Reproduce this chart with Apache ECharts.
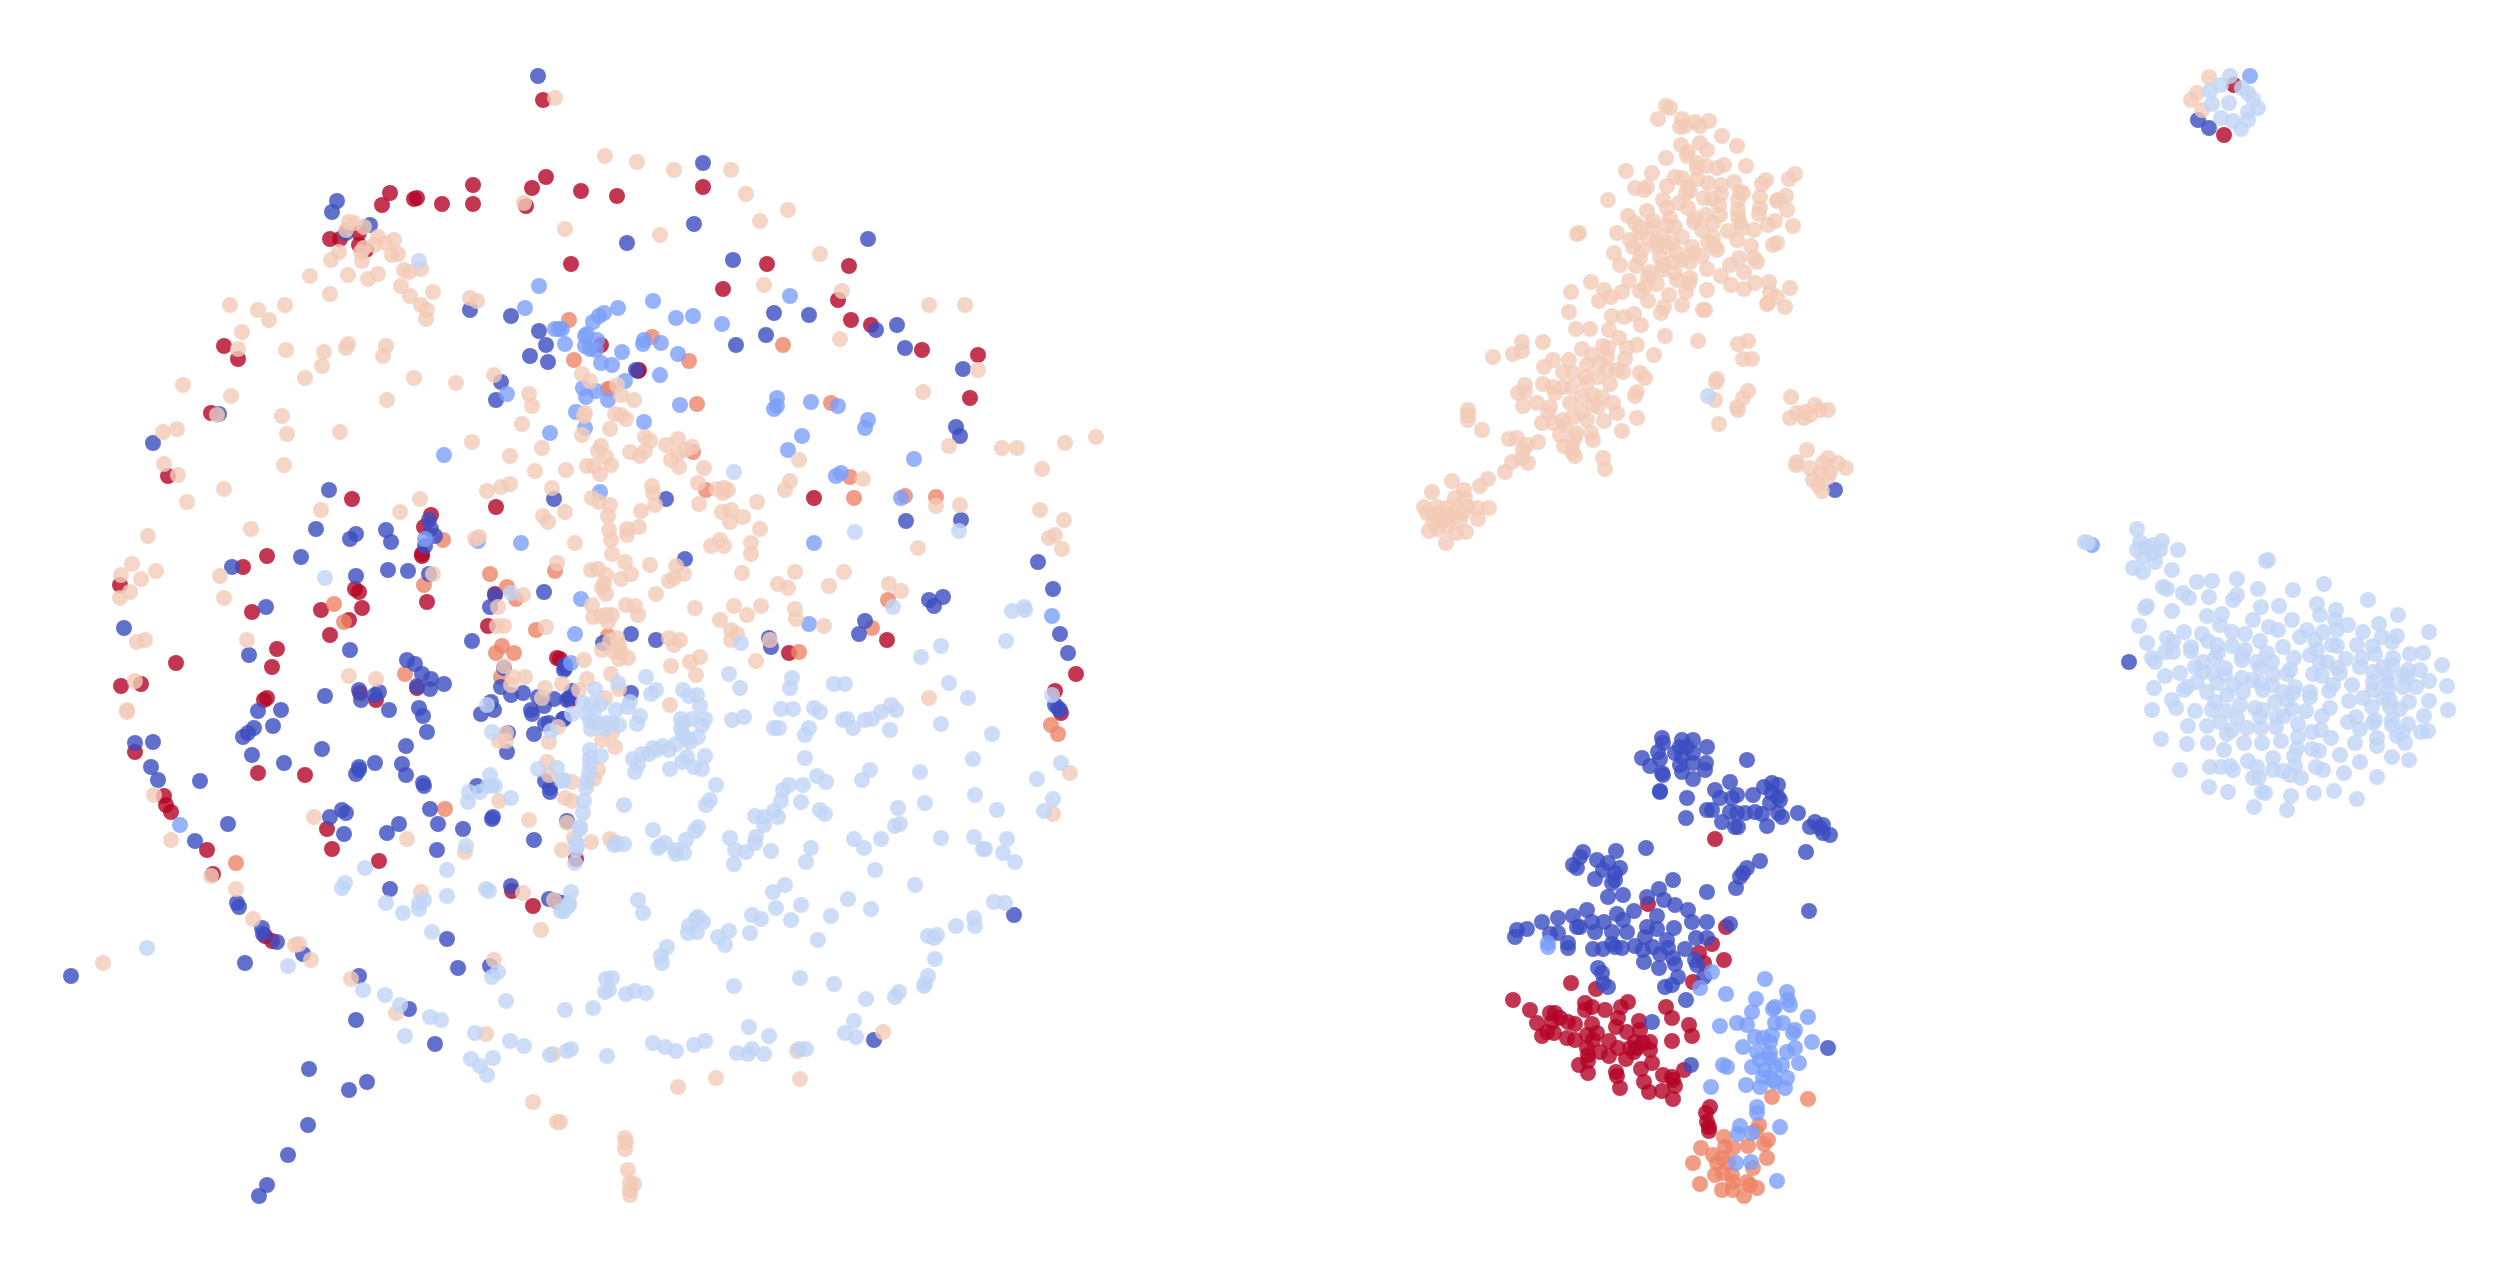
<!DOCTYPE html>
<html><head><meta charset="utf-8"><title>Embedding scatter</title>
<script src="https://cdn.jsdelivr.net/npm/echarts@6/dist/echarts.min.js"></script>
<style>html,body{margin:0;padding:0;background:#fff}#c{width:2519px;height:1272px}</style></head>
<body><div id="c"></div>
<script>
const class5Red = [
[543,100],[390,193],[382,205],[414,199],[417,198],[442,204],[473,185],[473,204],[532,188],[546,177],[581,191],[526,206],[571,264],[330,239],[340,239],[359,233],[359,245],[366,250],[224,346],[238,359],[211,413],[168,476],[601,345],[352,499],[496,507],[431,515],[424,527],[422,554],[422,556],[267,556],[243,567],[120,585],[355,589],[359,592],[495,594],[427,602],[362,608],[321,610],[252,612],
[617,196],[703,187],[767,264],[723,289],[849,266],[838,300],[851,320],[871,325],[922,350],[978,355],[970,398],[638,371],[639,370],[814,498],[887,640],[789,653],[1076,674],[560,659],
[1055,691],[1061,713],[576,859],
[330,635],[277,649],[272,667],[176,663],[121,686],[141,684],[264,700],[267,698],[135,752],[258,773],[305,775],[164,796],[166,805],[171,812],[207,850],[213,874],[327,829],[332,849],[379,861],[265,936],[272,941],[360,693],[376,700],[417,688],[512,891],[533,906],[557,658],[488,626],[349,620],[570,700],
[1715,839],[1648,904],[1726,927],[1712,944],[1699,953],[1704,963],[1724,960],[1693,982],[1571,983],[1596,989],[1513,1000],[1530,1010],[1537,1023],[1585,1003],[1592,1007],[1585,1010],[1605,1010],[1628,1002],[1621,1007],[1666,1007],[1672,1018],[1550,1013],[1555,1013],[1552,1022],[1560,1018],[1568,1022],[1575,1024],[1618,1018],[1616,1027],[1592,1024],[1639,1021],[1689,1025],[1692,1036],[1542,1036],[1547,1032],[1554,1033],[1567,1038],[1575,1040],[1587,1035],[1597,1033],[1593,1040],[1627,1032],[1640,1030],[1672,1041],[1609,1041],[1650,1042],[1643,1043],[1635,1042],[1587,1048],[1600,1052],[1618,1048],[1630,1048],[1637,1048],[1650,1050],[1609,1056],[1626,1059],[1634,1052],[1588,1055],[1588,1061],[1579,1065],[1652,1063],[1641,1069],[1616,1072],[1617,1076],[1588,1073],[1684,1070],[1663,1075],[1672,1077],[1673,1080],[1675,1086],[1644,1082],[1620,1088],[1649,1092],[1662,1091],[1673,1099],[1710,1107],[1706,1113],[1707,1122],[1709,1127],[1709,1131],
[2234,85],[2224,135]
];
const class4Orange = [
[569,320],[574,360],[610,389],[443,540],[490,574],[555,571],[424,585],[507,587],[516,599],[334,604],
[652,337],[689,361],[783,345],[608,389],[697,404],[831,403],[850,477],[706,490],[905,496],[936,497],[854,498],[693,452],[888,600],[872,628],[799,652],[608,636],
[1051,725],[1058,734],
[405,674],[445,809],[236,863],[502,646],[496,653],[514,653],[536,630],[344,622],[501,677],
[1772,1097],[1808,1099],[1759,1125],[1756,1131],[1724,1137],[1768,1140],[1764,1144],[1725,1147],[1733,1148],[1748,1146],[1701,1148],[1713,1155],[1722,1158],[1767,1158],[1693,1163],[1728,1163],[1717,1163],[1753,1168],[1715,1175],[1723,1173],[1732,1175],[1733,1182],[1747,1182],[1700,1184],[1722,1190],[1733,1190],[1750,1185],[1757,1188],[1744,1196]
];
const class0DarkBlue = [
[538,76],[337,201],[332,212],[370,225],[346,233],[470,310],[511,316],[539,331],[546,345],[530,356],[548,362],[501,382],[496,400],[219,414],[153,443],[329,490],[554,499],[429,520],[431,529],[435,536],[425,546],[316,529],[356,534],[350,539],[386,530],[391,542],[301,557],[232,567],[388,570],[408,571],[429,574],[356,576],[544,592],[495,595],[266,607],[490,607],
[703,163],[694,224],[627,243],[868,239],[733,260],[774,313],[809,315],[897,325],[876,330],[766,335],[736,345],[905,348],[963,369],[636,370],[956,427],[960,436],[666,499],[906,521],[961,520],[685,559],[1038,562],[1053,589],[929,600],[943,597],[934,606],[865,621],[859,634],[1060,634],[1068,653],[631,634],[656,640],[603,643],[769,638],[771,647],[565,665],[564,670],
[631,693],[569,698],[567,700],[572,691],[564,719],[567,821],[1058,708],[1055,705],[1060,710],[1014,915],[874,1040],[565,668],[562,903],
[124,628],[249,655],[350,650],[472,641],[407,660],[415,664],[422,674],[431,679],[444,684],[417,686],[430,689],[359,690],[379,692],[375,695],[361,700],[389,710],[325,696],[281,710],[258,711],[254,728],[248,733],[243,737],[273,726],[135,743],[153,742],[252,755],[284,763],[322,749],[151,767],[158,780],[200,781],[419,708],[423,716],[427,732],[406,746],[402,764],[406,775],[375,763],[359,767],[359,770],[356,774],[423,783],[424,786],[430,809],[342,810],[346,813],[330,817],[228,824],[344,834],[387,833],[399,824],[438,824],[463,829],[437,850],[195,841],[390,889],[237,903],[239,907],[262,928],[277,942],[263,934],[303,954],[245,963],[71,976],[359,976],[447,939],[458,968],[409,1009],[356,1020],[435,1044],[309,1069],[367,1082],[349,1090],[308,1125],[288,1155],[267,1185],[259,1196],[490,966],[511,886],[549,899],[556,901],[477,786],[493,817],[492,819],[534,840],[550,788],[550,792],[545,781],[507,752],[508,733],[481,714],[494,710],[491,702],[534,734],[531,710],[532,714],[501,687],[511,695],[523,693],[504,668],[538,697],[544,706],[554,699],[545,724],[549,723],[563,719],
[1835,490],
[1662,738],[1663,743],[1682,740],[1693,740],[1707,747],[1680,747],[1687,747],[1675,753],[1658,752],[1693,753],[1682,757],[1642,758],[1660,759],[1650,766],[1680,765],[1693,763],[1706,763],[1705,770],[1747,760],[1662,773],[1663,775],[1682,772],[1693,779],[1730,782],[1660,791],[1660,792],[1715,790],[1772,783],[1778,785],[1764,787],[1687,798],[1720,798],[1732,798],[1737,795],[1753,795],[1772,793],[1778,797],[1770,803],[1780,800],[1707,810],[1712,810],[1730,812],[1737,813],[1745,813],[1755,812],[1762,814],[1778,813],[1782,817],[1798,813],[1686,818],[1722,822],[1735,827],[1738,827],[1767,826],[1815,822],[1810,827],[1823,825],[1820,828],[1823,833],[1830,835],[1806,852],[1646,848],[1583,852],[1580,857],[1573,865],[1577,868],[1616,851],[1597,860],[1608,863],[1620,868],[1615,873],[1603,870],[1595,879],[1612,883],[1615,880],[1760,861],[1747,868],[1743,873],[1740,877],[1736,888],[1673,880],[1659,889],[1707,892],[1608,897],[1623,895],[1647,897],[1664,900],[1675,905],[1688,910],[1809,911],[1587,910],[1573,916],[1558,918],[1617,914],[1623,920],[1634,911],[1657,916],[1542,922],[1592,922],[1604,922],[1692,922],[1707,922],[1730,924],[1577,927],[1580,927],[1527,929],[1517,930],[1515,937],[1550,934],[1558,933],[1595,932],[1612,932],[1627,932],[1647,927],[1657,929],[1674,928],[1645,937],[1696,938],[1707,938],[1568,943],[1568,948],[1593,949],[1603,949],[1612,944],[1615,947],[1622,948],[1635,946],[1643,950],[1653,947],[1667,940],[1668,948],[1685,949],[1660,954],[1644,962],[1673,958],[1675,964],[1695,960],[1697,965],[1659,968],[1598,968],[1602,973],[1678,977],[1672,985],[1665,987],[1704,977],[1608,987],[1603,983],[1686,1000],[1652,1022],[1828,1048],[1691,1065],
[2129,662],[2198,120],[2209,128]
];
const class1MidBlue = [
[539,286],[525,308],[555,329],[559,329],[444,455],[507,394],[550,433],[521,543],[478,541],[425,539],
[618,308],[604,313],[599,316],[593,322],[587,334],[585,336],[597,340],[562,329],[565,344],[585,346],[590,349],[596,350],[601,363],[612,365],[622,352],[653,301],[676,318],[693,316],[722,324],[790,296],[644,340],[643,344],[661,343],[678,354],[660,375],[625,381],[583,388],[596,391],[586,397],[608,400],[680,405],[576,412],[644,422],[585,428],[777,398],[777,406],[774,409],[811,402],[838,406],[868,420],[865,428],[802,436],[788,450],[914,459],[836,476],[841,473],[600,492],[901,498],[814,543],[1052,616],[581,599],[809,624],[575,634],[571,663],
[180,825],
[1548,943],[1548,947],[1712,972],[1700,988],[1765,979],[1726,994],[1787,992],[1788,1000],[1790,1005],[1756,999],[1775,1007],[1773,1009],[1752,1012],[1808,1017],[1737,1023],[1747,1025],[1720,1026],[1775,1023],[1783,1023],[1755,1037],[1763,1038],[1772,1035],[1793,1033],[1795,1030],[1812,1042],[1743,1047],[1770,1042],[1795,1048],[1757,1052],[1770,1053],[1787,1052],[1760,1060],[1770,1058],[1782,1065],[1799,1063],[1752,1067],[1723,1065],[1727,1067],[1765,1070],[1775,1067],[1763,1077],[1773,1080],[1787,1078],[1746,1085],[1760,1087],[1711,1087],[1775,1082],[1785,1088],[1757,1107],[1757,1113],[1740,1126],[1738,1134],[1752,1133],[1780,1127],[1736,1163],[1751,1162],[1777,1181],
[2092,545],[2250,76]
];
const class3Peach = [
[555,98],[349,222],[354,223],[346,230],[364,227],[378,237],[374,245],[364,248],[361,252],[386,243],[394,240],[392,255],[398,254],[339,252],[331,260],[362,261],[421,269],[409,272],[404,270],[310,276],[348,275],[368,279],[378,274],[401,286],[410,296],[433,292],[330,294],[470,298],[477,301],[421,305],[427,310],[426,319],[524,203],[230,305],[258,310],[269,320],[285,305],[242,332],[238,349],[286,350],[324,352],[348,344],[346,348],[386,346],[383,356],[322,366],[305,378],[414,378],[456,383],[494,375],[183,385],[231,396],[529,394],[387,400],[532,406],[282,416],[217,415],[522,424],[177,429],[163,432],[287,434],[340,432],[472,442],[542,448],[164,464],[178,475],[284,465],[510,456],[535,471],[224,489],[510,484],[501,487],[487,491],[552,488],[187,502],[420,499],[321,510],[400,512],[543,516],[548,522],[251,529],[148,536],[479,537],[475,539],[557,563],[132,564],[156,571],[121,575],[141,579],[220,576],[130,592],[120,598],[224,598],[433,574],[523,595],[498,607],
[605,156],[637,162],[674,170],[731,170],[746,194],[788,210],[760,221],[565,229],[660,235],[820,254],[764,285],[842,291],[929,305],[965,305],[840,339],[978,370],[923,392],[582,374],[590,381],[617,385],[621,395],[634,400],[585,413],[584,416],[615,414],[621,415],[626,419],[610,429],[582,435],[601,446],[598,451],[606,457],[611,465],[587,466],[594,466],[600,474],[566,470],[645,437],[650,441],[678,439],[666,445],[692,447],[685,450],[630,452],[645,451],[640,456],[678,454],[671,460],[679,467],[704,468],[949,446],[1002,448],[1017,448],[1065,443],[1096,437],[1042,469],[799,460],[790,481],[785,490],[863,479],[698,483],[652,486],[653,493],[717,489],[724,488],[728,490],[723,493],[592,498],[599,502],[610,505],[565,512],[655,505],[699,504],[757,502],[641,511],[608,516],[722,512],[731,510],[743,517],[730,522],[760,529],[609,530],[627,529],[627,535],[639,527],[611,540],[575,543],[711,546],[720,540],[724,546],[751,543],[751,554],[960,505],[936,506],[1040,510],[1064,520],[1055,535],[1049,538],[1062,549],[918,548],[612,554],[625,562],[650,565],[676,566],[591,570],[598,569],[606,575],[621,579],[631,574],[684,574],[674,578],[669,581],[742,573],[795,572],[844,572],[778,584],[788,588],[829,586],[889,584],[901,591],[604,584],[602,588],[606,594],[656,594],[592,605],[626,605],[635,606],[638,615],[695,608],[734,606],[761,606],[747,615],[795,609],[796,619],[824,626],[593,617],[601,616],[606,615],[612,615],[608,622],
[720,620],[731,630],[737,634],[731,640],[770,640],[617,638],[610,641],[619,645],[614,652],[621,652],[619,659],[628,658],[602,650],[669,638],[680,640],[674,645],[700,657],[690,662],[671,666],[696,675],[756,661],[584,660],[611,674],[587,679],
[615,747],[602,740],[612,733],[605,698],[619,689],[670,705],[929,698],[1070,773],[1053,814],[572,782],[598,770],[594,779],[565,798],[572,801],[567,823],[591,842],[610,839],[615,842],[562,850],[574,838],[883,1032],[797,1051],[678,1087],[716,1078],[800,1079],[625,1138],[626,1142],[625,1149],[628,1170],[630,1183],[634,1184],[630,1190],[630,1195],[560,1122],
[137,642],[145,640],[247,640],[349,676],[376,679],[135,681],[127,710],[127,712],[504,666],[513,677],[525,677],[511,685],[545,688],[542,698],[562,684],[579,690],[506,733],[499,741],[506,741],[558,727],[549,742],[547,762],[549,775],[499,801],[529,820],[154,795],[314,817],[407,839],[171,840],[465,852],[211,876],[236,889],[421,892],[523,893],[554,900],[253,919],[295,945],[299,944],[311,960],[541,930],[103,963],[494,960],[351,979],[396,1013],[486,1034],[553,1054],[533,1102],[557,1122],[497,626],[504,626],[546,627],
[1666,106],[1670,108],[1658,119],[1682,119],[1680,127],[1685,126],[1695,122],[1700,126],[1709,121],[1722,136],[1737,146],[1681,145],[1700,143],[1707,150],[1688,152],[1687,156],[1666,158],[1697,163],[1697,168],[1706,166],[1717,168],[1724,165],[1746,166],[1626,171],[1652,173],[1675,177],[1682,178],[1697,179],[1708,183],[1721,185],[1734,182],[1635,188],[1644,190],[1647,187],[1667,186],[1688,187],[1686,193],[1690,191],[1721,194],[1704,198],[1712,199],[1740,192],[1743,193],[1738,200],[1760,197],[1766,180],[1762,184],[1789,179],[1795,174],[1786,196],[1778,200],[1777,201],[1608,200],[1663,200],[1679,203],[1667,208],[1688,208],[1719,205],[1647,211],[1738,210],[1760,208],[1759,214],[1787,210],[1628,216],[1706,215],[1720,215],[1738,217],[1695,218],[1670,218],[1653,221],[1713,223],[1694,222],[1775,221],[1768,225],[1793,226],[1740,223],[1742,228],[1754,230],[1728,231],[1702,230],[1635,223],[1640,227],[1653,227],[1667,225],[1675,227],[1617,233],[1579,233],[1577,234],[1640,233],[1630,240],[1648,238],[1657,242],[1663,237],[1682,237],[1672,243],[1713,237],[1708,242],[1715,247],[1717,250],[1737,240],[1751,246],[1777,243],[1773,245],[1692,247],[1657,247],[1667,247],[1633,247],[1642,250],[1614,253],[1660,257],[1677,253],[1693,253],[1702,256],[1640,258],[1739,258],[1754,258],[1757,262],[1620,265],[1636,266],[1663,265],[1673,262],[1682,260],[1690,262],[1707,269],[1730,265],[1744,272],[1650,272],[1648,277],[1662,270],[1675,273],[1721,276],[1690,278],[1689,283],[1677,280],[1629,281],[1591,282],[1645,287],[1657,284],[1731,285],[1755,283],[1744,289],[1769,282],[1770,292],[1790,288],[1604,290],[1707,290],[1640,291],[1686,292],[1622,292],[1571,292],[1611,297],[1599,301],[1669,295],[1648,301],[1777,297],[1768,303],[1767,304],[1785,307],[1682,305],[1664,307],[1661,313],[1705,310],[1703,310],[1569,312],[1612,316],[1624,317],[1634,314],[1641,325],[1576,329],[1590,329],[1609,330],[1665,336],[1698,341],[1748,341],[1738,344],[1619,338],[1522,342],[1522,351],[1513,354],[1543,342],[1637,345],[1603,346],[1608,348],[1627,348],[1582,349],[1493,357],[1654,355],[1592,355],[1607,357],[1743,359],[1752,359],[1569,360],[1553,360],[1625,359],[1544,367],[1587,365],[1600,363],[1563,372],[1573,373],[1607,370],[1617,370],[1623,372],[1640,373],[1645,378],[1585,377],[1598,377],[1717,379],[1716,382],[1525,385],[1543,384],[1572,387],[1563,387],[1610,384],[1553,387],[1587,383],[1518,393],[1525,392],[1637,392],[1635,396],[1748,391],[1743,398],[1555,393],[1582,397],[1593,395],[1602,397],[1715,400],[1737,407],[1738,410],[1791,397],[1523,406],[1537,403],[1570,403],[1593,405],[1613,403],[1550,407],[1548,413],[1598,407],[1468,410],[1468,415],[1468,420],[1815,405],[1828,410],[1805,412],[1797,413],[1810,415],[1804,418],[1790,418],[1820,410],[1582,412],[1617,413],[1637,418],[1719,424],[1563,420],[1573,417],[1587,420],[1542,423],[1553,423],[1565,425],[1604,421],[1482,430],[1576,433],[1560,435],[1622,431],[1591,433],[1593,440],[1509,439],[1517,438],[1538,442],[1527,445],[1575,438],[1564,446],[1572,447],[1572,452],[1523,450],[1575,456],[1603,458],[1807,450],[1828,458],[1838,463],[1846,468],[1823,463],[1796,465],[1797,462],[1512,462],[1522,458],[1528,463],[1605,469],[1505,472],[1810,468],[1830,472],[1820,473],[1828,477],[1813,480],[1818,485],[1822,491],[1452,481],[1488,479],[1480,486],[1432,492],[1464,490],[1455,498],[1465,498],[1424,507],[1437,507],[1447,508],[1457,507],[1467,507],[1477,508],[1489,508],[1427,513],[1435,515],[1443,513],[1453,515],[1463,513],[1433,522],[1442,522],[1450,520],[1460,520],[1478,519],[1429,531],[1438,529],[1447,527],[1456,533],[1466,532],[1446,543],
[2209,77],[2197,93],[2191,100],[2202,110]
];
const class2LightBlue = [
[511,593],[325,578],[419,261],
[734,472],[855,532],[959,531],[1012,611],[1024,607],[1025,610],[893,607],[1006,641],[941,646],[741,643],[921,657],[729,674],
[646,677],[740,688],[792,678],[790,688],[834,684],[845,684],[949,683],[968,698],[651,694],[656,690],[683,690],[689,696],[697,695],[700,706],[618,683],[595,689],[630,702],[628,707],[616,710],[583,703],[592,704],[601,704],[594,712],[587,714],[572,714],[590,721],[597,723],[606,723],[612,723],[619,725],[591,729],[605,729],[640,716],[637,724],[781,709],[793,709],[814,708],[820,712],[732,720],[744,717],[681,719],[692,719],[705,719],[683,723],[702,725],[681,729],[683,735],[690,742],[698,737],[687,739],[843,720],[847,719],[853,728],[865,720],[872,719],[881,712],[891,705],[896,710],[890,730],[941,724],[992,734],[774,728],[779,728],[809,728],[805,735],[676,744],[663,746],[653,748],[649,754],[642,754],[633,759],[638,765],[635,772],[656,750],[669,750],[705,756],[687,757],[682,762],[694,767],[702,769],[670,769],[805,758],[973,759],[1061,763],[920,772],[870,770],[862,780],[1037,779],[817,776],[826,782],[803,785],[789,785],[783,790],[781,801],[716,785],[601,756],[590,750],[590,758],[590,765],[589,773],[587,781],[586,788],[584,801],[583,813],[580,827],[580,829],[576,842],[576,850],[577,846],[575,863],[564,780],[624,805],[710,800],[706,805],[801,802],[925,803],[898,808],[975,795],[997,810],[1053,799],[1044,811],[820,810],[825,814],[774,811],[764,817],[778,817],[755,816],[764,825],[653,830],[698,827],[695,831],[686,840],[730,838],[756,837],[755,843],[735,850],[746,852],[771,851],[734,864],[811,848],[806,862],[854,839],[864,848],[881,839],[895,826],[900,824],[941,838],[974,837],[983,849],[985,849],[1007,839],[1003,853],[1015,862],[875,870],[915,885],[617,844],[614,845],[624,844],[660,846],[665,843],[658,848],[675,850],[684,853],[676,854],[571,892],[569,903],[568,906],[564,911],[638,900],[643,913],[785,885],[773,892],[776,908],[801,905],[752,915],[761,919],[791,920],[831,916],[848,899],[871,909],[818,940],[750,933],[696,919],[698,917],[689,926],[703,922],[697,932],[688,933],[729,931],[718,937],[725,945],[994,902],[1005,903],[974,918],[975,926],[956,926],[928,936],[937,935],[934,938],[935,959],[667,947],[661,956],[662,963],[928,976],[925,984],[924,986],[899,992],[895,997],[866,999],[800,978],[834,984],[734,986],[612,978],[606,979],[609,990],[605,992],[626,994],[635,991],[646,993],[565,1010],[593,1008],[854,1021],[845,1033],[856,1037],[749,1027],[769,1036],[705,1041],[694,1045],[653,1043],[665,1047],[676,1051],[571,1049],[567,1051],[607,1056],[737,1053],[748,1054],[752,1049],[764,1054],[799,1049],[806,1049],[1052,695],
[147,948],[288,966],[342,888],[345,883],[365,868],[386,903],[403,913],[419,909],[419,903],[424,900],[447,870],[447,896],[466,846],[432,932],[363,990],[385,995],[400,1005],[430,1017],[441,1020],[405,1036],[475,1033],[506,1001],[498,972],[492,977],[486,889],[489,891],[550,1055],[471,1059],[480,1066],[487,1075],[493,1058],[510,1041],[524,1046],[487,705],[492,732],[551,731],[538,769],[557,768],[562,781],[490,775],[492,785],[495,786],[488,786],[480,792],[469,792],[468,802],[511,798],[569,905],[561,911],
[1708,396],
[2085,542],[2088,543],[2137,529],[2140,542],[2137,550],[2162,541],[2153,545],[2147,547],[2178,550],[2160,550],[2153,553],[2143,557],[2155,562],[2133,568],[2143,572],[2172,570],[2268,560],[2266,561],[2197,582],[2212,581],[2237,579],[2163,587],[2167,589],[2258,589],[2324,584],[2293,590],[2183,593],[2189,598],[2209,597],[2237,595],[2233,600],[2368,600],[2147,606],[2145,608],[2261,607],[2279,606],[2317,604],[2172,611],[2336,610],[2320,615],[2398,615],[2207,616],[2222,614],[2220,625],[2253,620],[2292,620],[2335,620],[2348,625],[2337,630],[2139,626],[2379,624],[2269,627],[2278,630],[2307,630],[2184,632],[2232,632],[2245,634],[2429,632],[2202,634],[2323,632],[2363,632],[2300,637],[2397,636],[2147,643],[2167,638],[2173,642],[2208,641],[2260,641],[2315,640],[2382,637],[2357,645],[2392,642],[2217,645],[2232,646],[2283,647],[2332,645],[2337,646],[2373,646],[2191,647],[2191,651],[2165,652],[2173,652],[2245,650],[2267,653],[2317,650],[2218,653],[2242,655],[2375,654],[2410,654],[2423,653],[2294,658],[2310,655],[2346,659],[2362,658],[2393,658],[2152,658],[2155,662],[2203,662],[2215,658],[2257,662],[2272,662],[2242,660],[2327,662],[2442,665],[2360,667],[2320,663],[2195,667],[2225,668],[2260,668],[2290,670],[2337,668],[2383,667],[2392,665],[2408,670],[2420,670],[2180,673],[2165,676],[2340,673],[2313,674],[2322,676],[2287,674],[2273,675],[2373,672],[2203,672],[2213,673],[2242,678],[2225,675],[2252,680],[2387,675],[2403,675],[2407,677],[2197,682],[2217,683],[2233,685],[2260,683],[2272,685],[2429,681],[2333,685],[2352,685],[2373,682],[2388,682],[2154,688],[2187,687],[2184,690],[2207,692],[2295,687],[2447,686],[2416,687],[2403,687],[2243,692],[2263,690],[2227,695],[2310,692],[2329,691],[2373,690],[2388,690],[2310,697],[2282,692],[2293,693],[2363,698],[2383,698],[2390,700],[2172,700],[2176,708],[2215,702],[2240,705],[2275,702],[2287,700],[2349,701],[2409,702],[2429,701],[2152,710],[2195,711],[2212,710],[2226,711],[2255,708],[2263,710],[2292,709],[2306,711],[2330,708],[2372,707],[2390,707],[2400,709],[2448,710],[2277,717],[2284,716],[2322,716],[2356,717],[2424,716],[2220,722],[2237,718],[2260,717],[2375,720],[2392,720],[2348,722],[2373,723],[2298,724],[2408,724],[2188,726],[2207,726],[2247,728],[2261,728],[2276,727],[2392,725],[2232,730],[2227,734],[2312,732],[2321,730],[2360,729],[2421,732],[2428,731],[2397,736],[2403,733],[2161,739],[2331,738],[2298,737],[2377,738],[2187,744],[2208,743],[2244,743],[2262,743],[2281,741],[2405,743],[2355,743],[2377,746],[2224,750],[2312,749],[2319,751],[2297,749],[2340,755],[2294,756],[2392,757],[2409,760],[2273,758],[2248,761],[2360,762],[2180,770],[2210,767],[2221,767],[2230,766],[2233,770],[2257,767],[2273,770],[2283,771],[2295,766],[2316,767],[2323,770],[2344,773],[2377,777],[2253,778],[2259,777],[2290,775],[2301,778],[2209,787],[2228,792],[2262,792],[2265,793],[2291,796],[2314,793],[2334,791],[2357,799],[2254,807],[2287,810],
[2230,76],[2210,91],[2221,85],[2212,104],[2229,103],[2242,88],[2248,93],[2253,99],[2258,108],[2248,112],[2248,120],[2233,121],[2221,118],[2241,129]
];
const classes = [
  {name:'5', data:class5Red, color:'#b40426'},
  {name:'4', data:class4Orange, color:'#ee8468'},
  {name:'0', data:class0DarkBlue, color:'#3b4cc0'},
  {name:'1', data:class1MidBlue, color:'#7b9ff9'},
  {name:'3', data:class3Peach, color:'#f2cbb7'},
  {name:'2', data:class2LightBlue, color:'#c0d4f5'}
];
const chart = echarts.init(document.getElementById('c'));
chart.setOption({
  animation:false,
  backgroundColor:'#ffffff',
  grid:{left:0,right:0,top:0,bottom:0},
  xAxis:{type:'value',min:0,max:2519,show:false},
  yAxis:{type:'value',min:0,max:1272,inverse:true,show:false},
  series:classes.map(c=>({
    type:'scatter',name:c.name,data:c.data,symbol:'circle',symbolSize:16,silent:true,large:false,
    itemStyle:{color:c.color,opacity:0.8,borderWidth:0}
  }))
});
</script></body></html>
